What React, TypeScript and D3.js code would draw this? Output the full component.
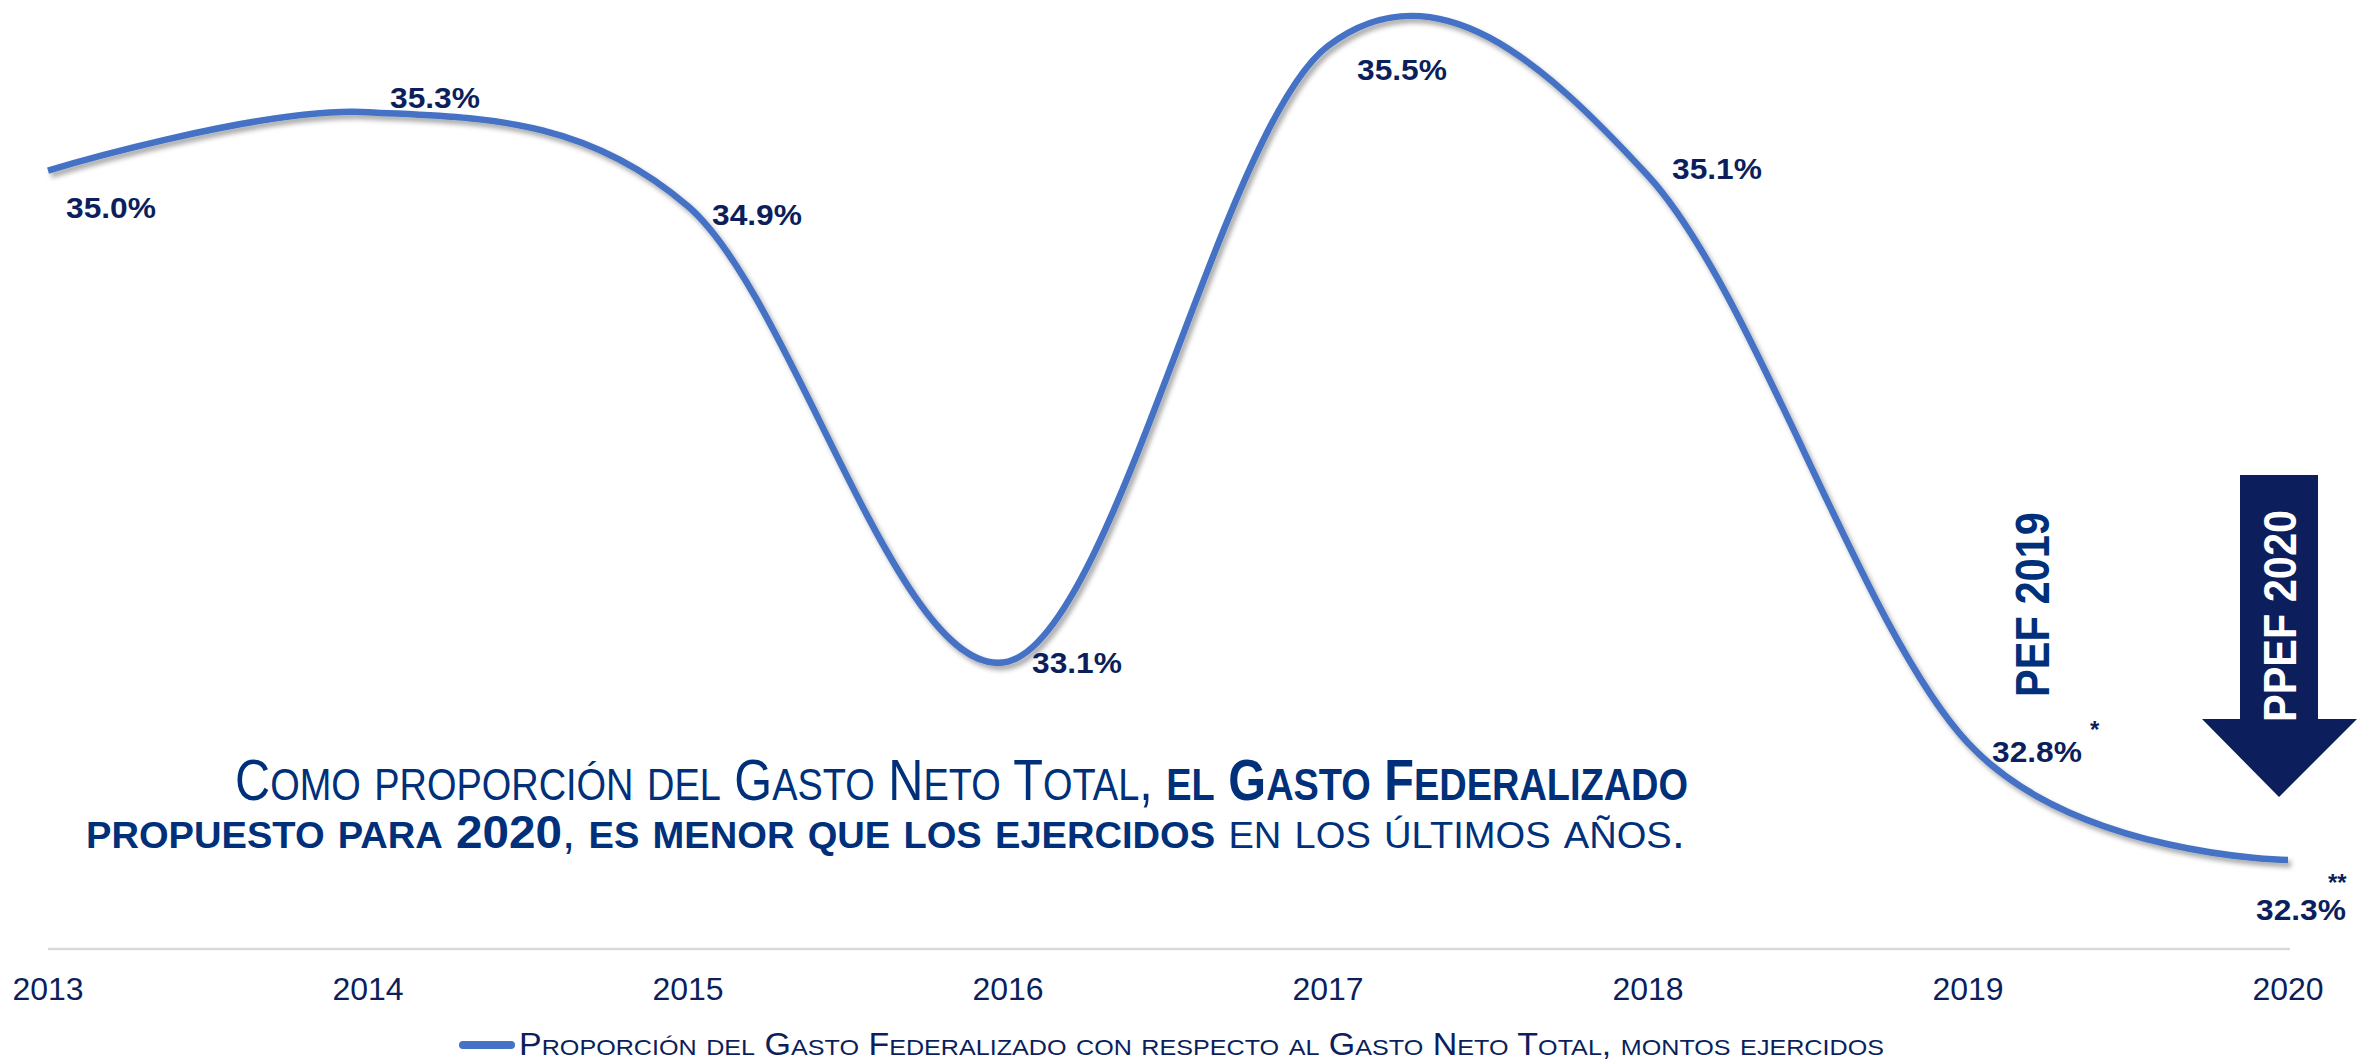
import React from "react";
import * as d3 from "d3";

const years = ["2013", "2014", "2015", "2016", "2017", "2018", "2019", "2020"];
const values = [35.01, 35.24, 34.87, 33.08, 35.5, 34.99, 32.76, 32.3];
const valueLabels = ["35.0%", "35.3%", "34.9%", "33.1%", "35.5%", "35.1%", "32.8%", "32.3%"];
const labelNotes = ["", "", "", "", "", "", "*", "**"];
// label placement offsets from the point (layout only)
const labelOffsets: [number, number][] = [
  [18, 47], [22, -4], [24, 19], [24, 11], [29, 34], [24, 3], [24, 19], [-32, 60],
];
const legendLabel = "Proporción del Gasto Federalizado con respecto al Gasto Neto Total, montos ejercidos";
const pefLabel = "PEF 2019";
const ppefLabel = "PPEF 2020";

const W = 2369;
const H = 1060;
const FONT = "'Liberation Sans', Arial, Helvetica, sans-serif";
const NAVY = "#0c1f5c";
const TEXTBLUE = "#00307a";
const LINEBLUE = "#4472C4";

type Run = { text: string; bold?: boolean };

function smallCaps(runs: Run[], size: number, ratio: number, keyBase: string) {
  const out: React.ReactNode[] = [];
  let k = 0;
  runs.forEach((r) => {
    let buf = "";
    let small: boolean | null = null;
    const flush = () => {
      if (!buf) return;
      out.push(
        <tspan
          key={keyBase + k++}
          fontSize={small ? size * ratio : size}
          fontWeight={r.bold ? "bold" : "normal"}
        >
          {buf}
        </tspan>
      );
      buf = "";
    };
    for (const ch of r.text) {
      const isLower = ch !== ch.toUpperCase();
      if (small === null) small = isLower;
      if (isLower !== small) {
        flush();
        small = isLower;
      }
      buf += isLower ? ch.toUpperCase() : ch;
    }
    flush();
  });
  return out;
}

const line1: Run[] = [
  { text: "Como proporción del Gasto Neto Total, " },
  { text: "el Gasto Federalizado", bold: true },
];
const line2: Run[] = [
  { text: "propuesto para ", bold: true },
  { text: "2020", bold: true },
  { text: ", " },
  { text: "es menor que los ejercidos", bold: true },
  { text: " en los últimos años." },
];

export default function App() {
  const x = d3.scalePoint<string>().domain(years).range([48, 2288]);
  const y = d3.scaleLinear().domain([32.3, 35.5]).range([860, 46]);
  const pts = years.map((yr, i) => [x(yr) as number, y(values[i])] as [number, number]);
  const path = d3.line().curve(d3.curveCardinal.tension(0))(pts) || "";

  const arrowX = 2279;
  const arrow = [
    [arrowX - 39, 475], [arrowX + 39, 475], [arrowX + 39, 719], [arrowX + 78, 719],
    [arrowX, 797], [arrowX - 77, 719], [arrowX - 39, 719],
  ];

  return (
    <svg
      width={W}
      height={H}
      viewBox={`0 0 ${W} ${H}`}
      style={{ position: "absolute", left: 0, top: 0, background: "#fff" }}
      fontFamily={FONT}
    >
      <defs>
        <filter id="sh" x="-5%" y="-10%" width="110%" height="130%">
          <feDropShadow dx="3" dy="4" stdDeviation="2.5" floodColor="#000" floodOpacity="0.35" />
        </filter>
      </defs>
      <rect width={W} height={H} fill="#fff" />

      {/* axis line */}
      <line x1={48} x2={2290} y1={949} y2={949} stroke="#d9d9d9" strokeWidth={2.5} />
      {years.map((yr) => (
        <text key={yr} x={x(yr)} y={1000} textAnchor="middle" fontSize={32} fill={NAVY}>
          {yr}
        </text>
      ))}

      {/* series line */}
      <path d={path} fill="none" stroke={LINEBLUE} strokeWidth={6.5} filter="url(#sh)" />

      {/* data labels */}
      {years.map((yr, i) => {
        const [px, py] = pts[i];
        const [dx, dy] = labelOffsets[i];
        return (
          <text
            key={"l" + yr}
            x={px + dx}
            y={py + dy}
            fontSize={30}
            fontWeight="bold"
            fill={NAVY}
            textLength={90}
            lengthAdjust="spacingAndGlyphs"
          >
            {valueLabels[i]}
          </text>
        );
      })}
      <text x={2090} y={738} fontSize={24} fontWeight="bold" fill={NAVY}>
        {labelNotes[6]}
      </text>
      <text x={2328} y={891} fontSize={24} fontWeight="bold" fill={NAVY}>
        {labelNotes[7]}
      </text>

      {/* PEF 2019 */}
      <text
        transform="translate(2049,697) rotate(-90)"
        fontSize={48}
        fontWeight="bold"
        fill={TEXTBLUE}
        textLength={185}
        lengthAdjust="spacingAndGlyphs"
      >
        {pefLabel}
      </text>

      {/* PPEF arrow */}
      <polygon points={arrow.map((p) => p.join(",")).join(" ")} fill={NAVY} />
      <text
        transform="translate(2296,722) rotate(-90)"
        fontSize={47}
        fontWeight="bold"
        fill="#fff"
        textLength={212}
        lengthAdjust="spacingAndGlyphs"
      >
        {ppefLabel}
      </text>

      {/* text block */}
      <text x={235} y={800} fill={TEXTBLUE} textLength={1453} lengthAdjust="spacingAndGlyphs">
        {smallCaps(line1, 58, 0.78, "a")}
      </text>
      <text x={86} y={848} fill={TEXTBLUE} textLength={1599} lengthAdjust="spacingAndGlyphs">
        {smallCaps(line2, 46, 0.8, "b")}
      </text>

      {/* legend */}
      <line x1={463} x2={511} y1={1045} y2={1045} stroke={LINEBLUE} strokeWidth={8} strokeLinecap="round" />
      <text x={519} y={1055} fill={NAVY} textLength={1365} lengthAdjust="spacingAndGlyphs">
        {smallCaps([{ text: legendLabel }], 31, 0.74, "c")}
      </text>
    </svg>
  );
}
